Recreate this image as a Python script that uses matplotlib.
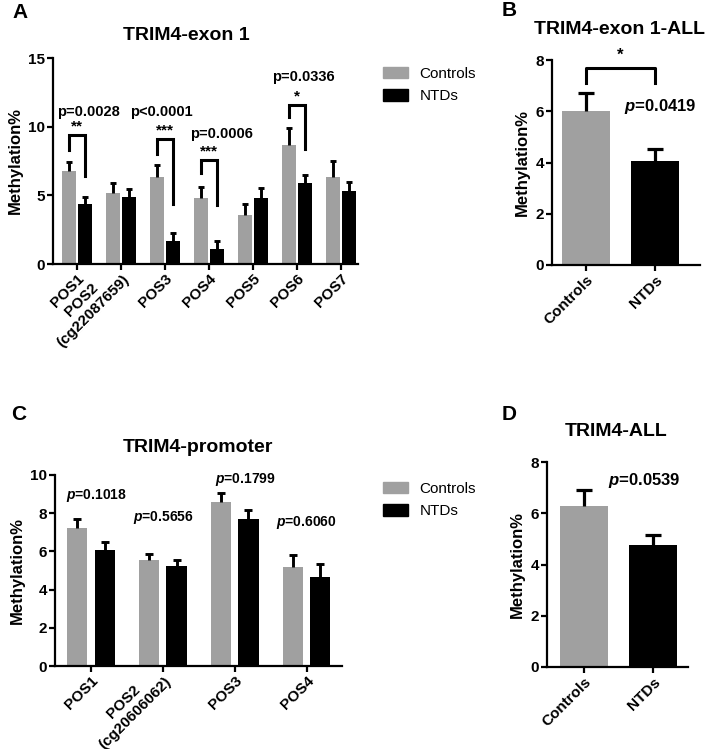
import numpy as np
import matplotlib
matplotlib.use("Agg")
import matplotlib.pyplot as plt
from matplotlib.patches import Patch

plt.rcParams['font.family'] = ['Liberation Sans', 'DejaVu Sans']
plt.rcParams['font.weight'] = 'bold'
plt.rcParams['mathtext.fontset'] = 'custom'
plt.rcParams['mathtext.it'] = 'Liberation Sans:italic:bold'
plt.rcParams['mathtext.rm'] = 'Liberation Sans:bold'

GRAY = '#a0a0a0'

# ---- data ----
exon_pos = ['POS1', 'POS2\n(cg22087659)', 'POS3', 'POS4', 'POS5', 'POS6', 'POS7']
exon_ctrl = [6.8, 5.2, 6.3, 4.8, 3.6, 8.7, 6.3]
exon_ctrl_err = [0.65, 0.7, 0.9, 0.8, 0.75, 1.2, 1.2]
exon_ntd = [4.4, 4.9, 1.7, 1.1, 4.8, 5.9, 5.3]
exon_ntd_err = [0.45, 0.55, 0.55, 0.55, 0.75, 0.6, 0.7]
# group, bracket top, left leg end, right leg end, stars, p-text, p-text x shift, p-text y
exon_sig = [(0, 9.4, 8.3, 6.4, '**', 'p=0.0028', 0.27, 11.05),
            (2, 9.1, 8.0, 4.4, '***', 'p<0.0001', -0.07, 11.05),
            (3, 7.6, 6.6, 4.3, '***', 'p=0.0006', 0.28, 9.45),
            (5, 11.6, 10.7, 8.4, '*', 'p=0.0336', 0.14, 13.65)]

groups = ['Controls', 'NTDs']
exon_all = [6.0, 4.07]
exon_all_err = [0.72, 0.47]

prom_pos = ['POS1', 'POS2\n(cg20606062)', 'POS3', 'POS4']
prom_ctrl = [7.2, 5.55, 8.6, 5.18]
prom_ctrl_err = [0.48, 0.32, 0.44, 0.64]
prom_ntd = [6.07, 5.25, 7.7, 4.68]
prom_ntd_err = [0.43, 0.3, 0.47, 0.64]
prom_p = ['0.1018', '0.5656', '0.1799', '0.6060']
prom_p_xy = [(0.07, 8.95), (0.01, 7.8), (0.15, 9.74), (-0.01, 7.49)]

trim_all = [6.29, 4.75]
trim_all_err = [0.62, 0.42]

W, H = 709, 749
fig = plt.figure(figsize=(W / 100, H / 100), dpi=100)


def box(l, t, r, b):
    return [l / W, 1 - b / H, (r - l) / W, (b - t) / H]


def style(ax):
    for s in ['top', 'right']:
        ax.spines[s].set_visible(False)
    for s in ['left', 'bottom']:
        ax.spines[s].set_linewidth(1.6)
    ax.tick_params(width=1.6, length=4, pad=1.5, labelsize=11)
    for lab in ax.get_yticklabels():
        lab.set_fontweight('bold')


def rot_labels(ax, labels):
    ticks = ax.set_xticklabels(labels, rotation=45, ha='right', rotation_mode='anchor',
                               multialignment='center', fontsize=11, fontweight='bold')
    for t in ticks:
        if '\n' in t.get_text():
            t.set_va('center')


def up_err(ax, x, vals, errs, lw, cap):
    eb = ax.errorbar(x, vals, yerr=[np.zeros(len(vals)), errs], fmt='none', ecolor='black',
                     elinewidth=lw, capsize=cap, capthick=lw)
    eb[1][0].set_visible(False)   # no cap at the bar top


def grouped(ax, names, c, ce, n, ne, w, off, cap):
    x = np.arange(len(names))
    ax.bar(x - off, c, w, color=GRAY)
    ax.bar(x + off, n, w, color='black')
    up_err(ax, x - off, c, ce, 2.1, cap)
    up_err(ax, x + off, n, ne, 2.1, cap)
    ax.set_xticks(x)
    rot_labels(ax, names)
    return x


def pair(ax, vals, errs):
    x = np.arange(len(groups))
    ax.bar(x, vals, 0.69, color=[GRAY, 'black'])
    up_err(ax, x, vals, errs, 2.3, 6)
    ax.set_xticks(x)
    rot_labels(ax, groups)
    ax.set_ylim(0, 8)
    ax.set_yticks([0, 2, 4, 6, 8])
    ax.set_ylabel('Methylation%', fontsize=12, fontweight='bold', labelpad=4)
    style(ax)


def legend(ax, top):
    ax.legend([Patch(color=GRAY), Patch(color='black')], groups, frameon=False,
              loc='upper left', bbox_to_anchor=(369 / W, 1 - top / H),
              bbox_transform=fig.transFigure, handlelength=1.65, handleheight=0.8,
              handletextpad=0.75, labelspacing=0.55,
              prop={'size': 11, 'weight': 'normal'})


# ---- A ----
axA = fig.add_axes(box(53, 58, 358, 264))
grouped(axA, exon_pos, exon_ctrl, exon_ctrl_err, exon_ntd, exon_ntd_err, 0.32, 0.185, 2.5)
axA.set_xlim(-0.545, 6.39)
axA.set_ylim(0, 15)
axA.set_yticks([0, 5, 10, 15])
axA.set_ylabel('Methylation%', fontsize=12, fontweight='bold', labelpad=4)
style(axA)
for g, top, lb, rb, st, pt, dx, py in exon_sig:
    axA.plot([g - 0.185, g - 0.185, g + 0.185, g + 0.185], [lb, top, top, rb],
             color='black', lw=2.2, solid_joinstyle='miter')
    axA.text(g, top + 0.1, st, ha='center', va='bottom', fontsize=11, fontweight='bold')
    axA.text(g + dx, py, pt, ha='center', va='center', fontsize=10.5, fontweight='bold')
legend(axA, 53)

# ---- B ----
axB = fig.add_axes(box(552, 60, 700, 265))
pair(axB, exon_all, exon_all_err)
axB.set_xlim(-0.49, 1.65)
axB.plot([0, 0, 1, 1], [7.1, 7.7, 7.7, 7.1], color='black', lw=2.2)
axB.text(0.5, 7.9, '*', ha='center', va='bottom', fontsize=12, fontweight='bold')
axB.text(1.07, 6.17, '$p$=0.0419', ha='center', va='center', fontsize=12, fontweight='bold')

# ---- C ----
axC = fig.add_axes(box(55, 475, 342, 666))
xc = grouped(axC, prom_pos, prom_ctrl, prom_ctrl_err, prom_ntd, prom_ntd_err, 0.28, 0.19, 3)
axC.set_xlim(-0.5, 3.49)
axC.set_ylim(0, 10)
axC.set_yticks([0, 2, 4, 6, 8, 10])
axC.set_ylabel('Methylation%', fontsize=12, fontweight='bold', labelpad=4)
style(axC)
for i, (p, (dx, py)) in enumerate(zip(prom_p, prom_p_xy)):
    axC.text(xc[i] + dx, py, '$p$=' + p, ha='center', va='center', fontsize=10, fontweight='bold')
legend(axC, 468)

# ---- D ----
axD = fig.add_axes(box(547, 462, 688, 667))
pair(axD, trim_all, trim_all_err)
axD.set_xlim(-0.536, 1.51)
axD.text(0.87, 7.27, '$p$=0.0539', ha='center', va='center', fontsize=12, fontweight='bold')

# ---- titles and panel letters ----
for txt, x, y in [('TRIM4-exon 1', 186, 36), ('TRIM4-exon 1-ALL', 620, 29),
                  ('TRIM4-promoter', 198, 447), ('TRIM4-ALL', 616, 431)]:
    fig.text(x / W, 1 - y / H, txt, ha='center', va='center', fontsize=14, fontweight='bold')
for txt, x, y in [('A', 20, 12), ('B', 509, 11), ('C', 19, 415), ('D', 509, 414)]:
    fig.text(x / W, 1 - y / H, txt, ha='center', va='center', fontsize=15, fontweight='bold')

fig.savefig('out.png', dpi=100, facecolor='white')
